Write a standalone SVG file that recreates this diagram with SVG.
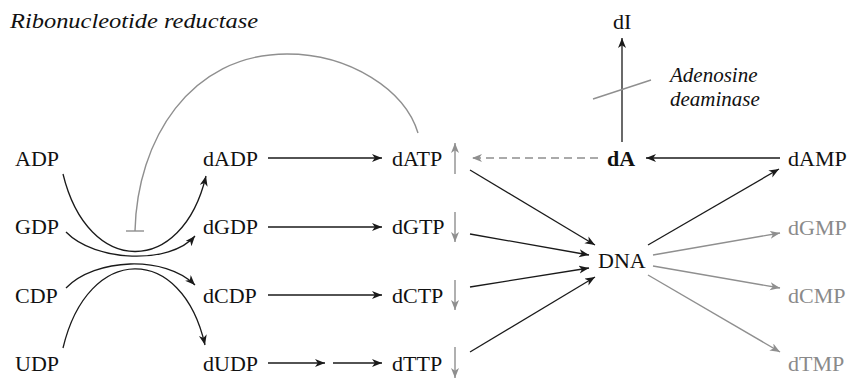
<svg xmlns="http://www.w3.org/2000/svg" width="848" height="379" viewBox="0 0 848 379">
<style>
text{font-family:"Liberation Serif","DejaVu Serif",serif;font-size:22px;fill:#111}
.it{font-style:italic;font-size:21px}
.b{font-weight:bold}
.g{fill:#8a8a8a}
.ln{fill:none;stroke:#1a1a1a;stroke-width:1.3}
.gl{fill:none;stroke:#8f8f8f;stroke-width:1.4}
.ar{marker-end:url(#ah)}
.gar{marker-end:url(#gh)}
</style>
<defs>
<marker id="ah" markerUnits="userSpaceOnUse" markerWidth="11" markerHeight="9" refX="10" refY="4" orient="auto" viewBox="0 0 11 9">
<path d="M0,0 L10,4 L0,8 L2.8,4 z" fill="#1a1a1a"/>
</marker>
<marker id="gh" markerUnits="userSpaceOnUse" markerWidth="11" markerHeight="9" refX="10" refY="4" orient="auto" viewBox="0 0 11 9">
<path d="M0,0 L10,4 L0,8 L2.8,4 z" fill="#8f8f8f"/>
</marker>
</defs>
<text class="it" x="10" y="28" textLength="248" lengthAdjust="spacingAndGlyphs">Ribonucleotide reductase</text>
<g id="ADP"><text x="15" y="166">ADP</text></g>
<g id="GDP"><text x="15" y="234">GDP</text></g>
<g id="CDP"><text x="15" y="303">CDP</text></g>
<g id="UDP"><text x="15" y="371">UDP</text></g>
<g id="dADP"><text x="203" y="166">dADP</text></g>
<g id="dGDP"><text x="203" y="234">dGDP</text></g>
<g id="dCDP"><text x="203" y="303">dCDP</text></g>
<g id="dUDP"><text x="203" y="371">dUDP</text></g>
<g id="dATP"><text x="392" y="166">dATP</text></g>
<g id="dGTP"><text x="392" y="234">dGTP</text></g>
<g id="dCTP"><text x="392" y="303">dCTP</text></g>
<g id="dTTP"><text x="392" y="371">dTTP</text></g>
<g id="DNA"><text x="598" y="268">DNA</text></g>
<g id="dA"><text class="b" x="607" y="166">dA</text></g>
<g id="dI"><text x="613" y="29">dI</text></g>
<g id="dAMP"><text x="788" y="166">dAMP</text></g>
<g id="dGMP"><text class="g" x="788" y="235">dGMP</text></g>
<g id="dCMP"><text class="g" x="788" y="303">dCMP</text></g>
<g id="dTMP"><text class="g" x="788" y="371">dTMP</text></g>
<g id="adenosine-deaminase">
<text class="it" x="670" y="82">Adenosine</text>
<text class="it" x="670" y="106">deaminase</text>
</g>
<g id="connectors">
<path class="ln ar" d="M63,174 C88,277 182,277 206,176"/>
<path class="ln ar" d="M66,232 C95,262 170,265 195,236"/>
<path class="ln ar" d="M66,288 C95,258 165,255 195,285"/>
<path class="ln ar" d="M63,348 C88,243 182,243 205,345"/>
<path class="gl" d="M135,231 C137,140 190,54 287,54 C350,54 405,90 418,133"/>
<path class="gl" d="M126,231 H144"/>
<path class="ln ar" d="M268,158 H382"/>
<path class="ln ar" d="M268,227 H382"/>
<path class="ln ar" d="M268,295 H382"/>
<path class="ln ar" d="M268,363 H325"/>
<path class="ln ar" d="M333,363 H382"/>
<path class="gl gar" d="M455,174 V143"/>
<path class="gl gar" d="M455,212 V242"/>
<path class="gl gar" d="M455,280 V310"/>
<path class="gl gar" d="M455,347 V378"/>
<path class="ln ar" d="M470,170 L595,245"/>
<path class="ln ar" d="M470,234 L589,255"/>
<path class="ln ar" d="M470,287 L589,268"/>
<path class="ln ar" d="M470,352 L595,277"/>
<path class="gl gar" d="M598,158 H472" stroke-dasharray="8 5"/>
<path class="ln ar" d="M780,158 H646"/>
<path class="ln ar" d="M622,142 V38"/>
<path class="gl" d="M593,99 L651,80"/>
<path class="ln ar" d="M648,245 L779,169"/>
<path class="gl gar" d="M653,255 L780,233"/>
<path class="gl gar" d="M653,266 L780,288"/>
<path class="gl gar" d="M648,275 L780,352"/>
</g>
</svg>
